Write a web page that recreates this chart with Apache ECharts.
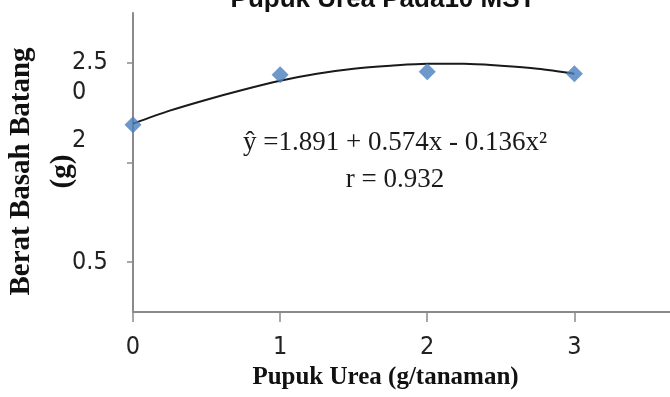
<!DOCTYPE html>
<html>
<head>
<meta charset="utf-8">
<script src="https://cdn.jsdelivr.net/npm/echarts@6/dist/echarts.min.js"></script>
<style>
  html, body { margin: 0; padding: 0; background: #fff; }
  #chart { width: 670px; height: 397px; }
</style>
</head>
<body>
<div id="chart"></div>
<script>
const doseX = [0, 1, 2, 3];
const beratY = [1.88, 2.38, 2.41, 2.39];

// trend curve as drawn in the picture
const trendX = [0, 0.25, 0.5, 0.75, 1, 1.25, 1.5, 1.75, 2, 2.25, 2.5, 2.75, 3];
const trendY = [1.89, 2.02, 2.13, 2.23, 2.32, 2.39, 2.44, 2.47, 2.49, 2.49, 2.47, 2.44, 2.39];

// axis ticks and labels as printed
const xTicks = [0, 1, 2, 3];
const yTicks = [0.5, 1.5, 2.5];
const yLabelPos = [0.5, 1.72, 2.2, 2.5];
const yLabelText = ['0.5', '2', '0', '2.5'];

const equationText = 'ŷ =1.891 + 0.574x - 0.136x²\nr = 0.932';

const chart = echarts.init(document.getElementById('chart'));
const axisColor = '#8a8a8a';
const narrow = '"Liberation Sans Narrow", "DejaVu Sans Condensed", sans-serif';

chart.setOption({
  backgroundColor: '#fff',
  animation: false,
  title: {
    text: 'Pupuk Urea Pada10 MST',
    left: 378,
    top: -18,
    textAlign: 'center',
    textStyle: { fontFamily: '"Liberation Sans", Arial, sans-serif', fontWeight: 'bold', fontSize: 26, color: '#111' }
  },
  grid: { left: 133, right: 0, top: 13, bottom: 85, outerBoundsMode: 'none', containLabel: false },
  xAxis: {
    type: 'value',
    min: 0,
    max: 3.65,
    interval: 1,
    name: 'Pupuk Urea (g/tanaman)',
    nameLocation: 'middle',
    nameGap: 53,
    nameMoveOverlap: false,
    nameTextStyle: {
      fontFamily: '"Liberation Serif", "Times New Roman", serif',
      fontWeight: 'bold', fontSize: 25, color: '#111',
      padding: [0, 32, 0, 0]
    },
    axisLine: { show: true, lineStyle: { color: axisColor, width: 2 } },
    axisTick: { show: true, length: 10, customValues: xTicks, lineStyle: { color: axisColor, width: 1.5 } },
    axisLabel: {
      customValues: xTicks,
      margin: 23,
      fontFamily: narrow, fontSize: 25, color: '#222'
    },
    splitLine: { show: false }
  },
  yAxis: {
    type: 'value',
    min: 0,
    max: 3,
    interval: 0.5,
    name: 'Berat Basah Batang\n(g)',
    nameLocation: 'middle',
    nameGap: 50,
    nameMoveOverlap: false,
    nameTextStyle: {
      fontFamily: '"Liberation Serif", "Times New Roman", serif',
      fontWeight: 'bold', fontSize: 29, lineHeight: 41, color: '#111',
      padding: [0, 18, 0, 0]
    },
    axisLine: { show: true, lineStyle: { color: axisColor, width: 2 } },
    axisTick: { show: true, length: 6, customValues: yTicks, lineStyle: { color: axisColor, width: 1.5 } },
    axisLabel: {
      customValues: yLabelPos,
      formatter: function (v) {
        const i = yLabelPos.findIndex(p => Math.abs(p - v) < 1e-6);
        return i >= 0 ? yLabelText[i] : '';
      },
      align: 'left',
      margin: 61,
      fontFamily: narrow, fontSize: 25, color: '#222'
    },
    splitLine: { show: false }
  },
  graphic: [{
    type: 'text',
    left: 403 - 160,
    top: 124,
    style: {
      text: equationText,
      x: 160,
      textAlign: 'center',
      fontFamily: '"Liberation Serif", "Times New Roman", serif',
      fontSize: 27,
      lineHeight: 37,
      fill: '#1a1a1a'
    }
  }],
  series: [
    {
      type: 'line',
      data: trendX.map((x, i) => [x, trendY[i]]),
      smooth: 0.3,
      showSymbol: false,
      lineStyle: { color: '#1a1a1a', width: 2 },
      z: 2
    },
    {
      type: 'scatter',
      data: doseX.map((x, i) => [x, beratY[i]]),
      symbol: 'diamond',
      symbolSize: 17,
      itemStyle: { color: '#4a7ebb' },
      z: 3
    }
  ]
});
</script>
</body>
</html>
